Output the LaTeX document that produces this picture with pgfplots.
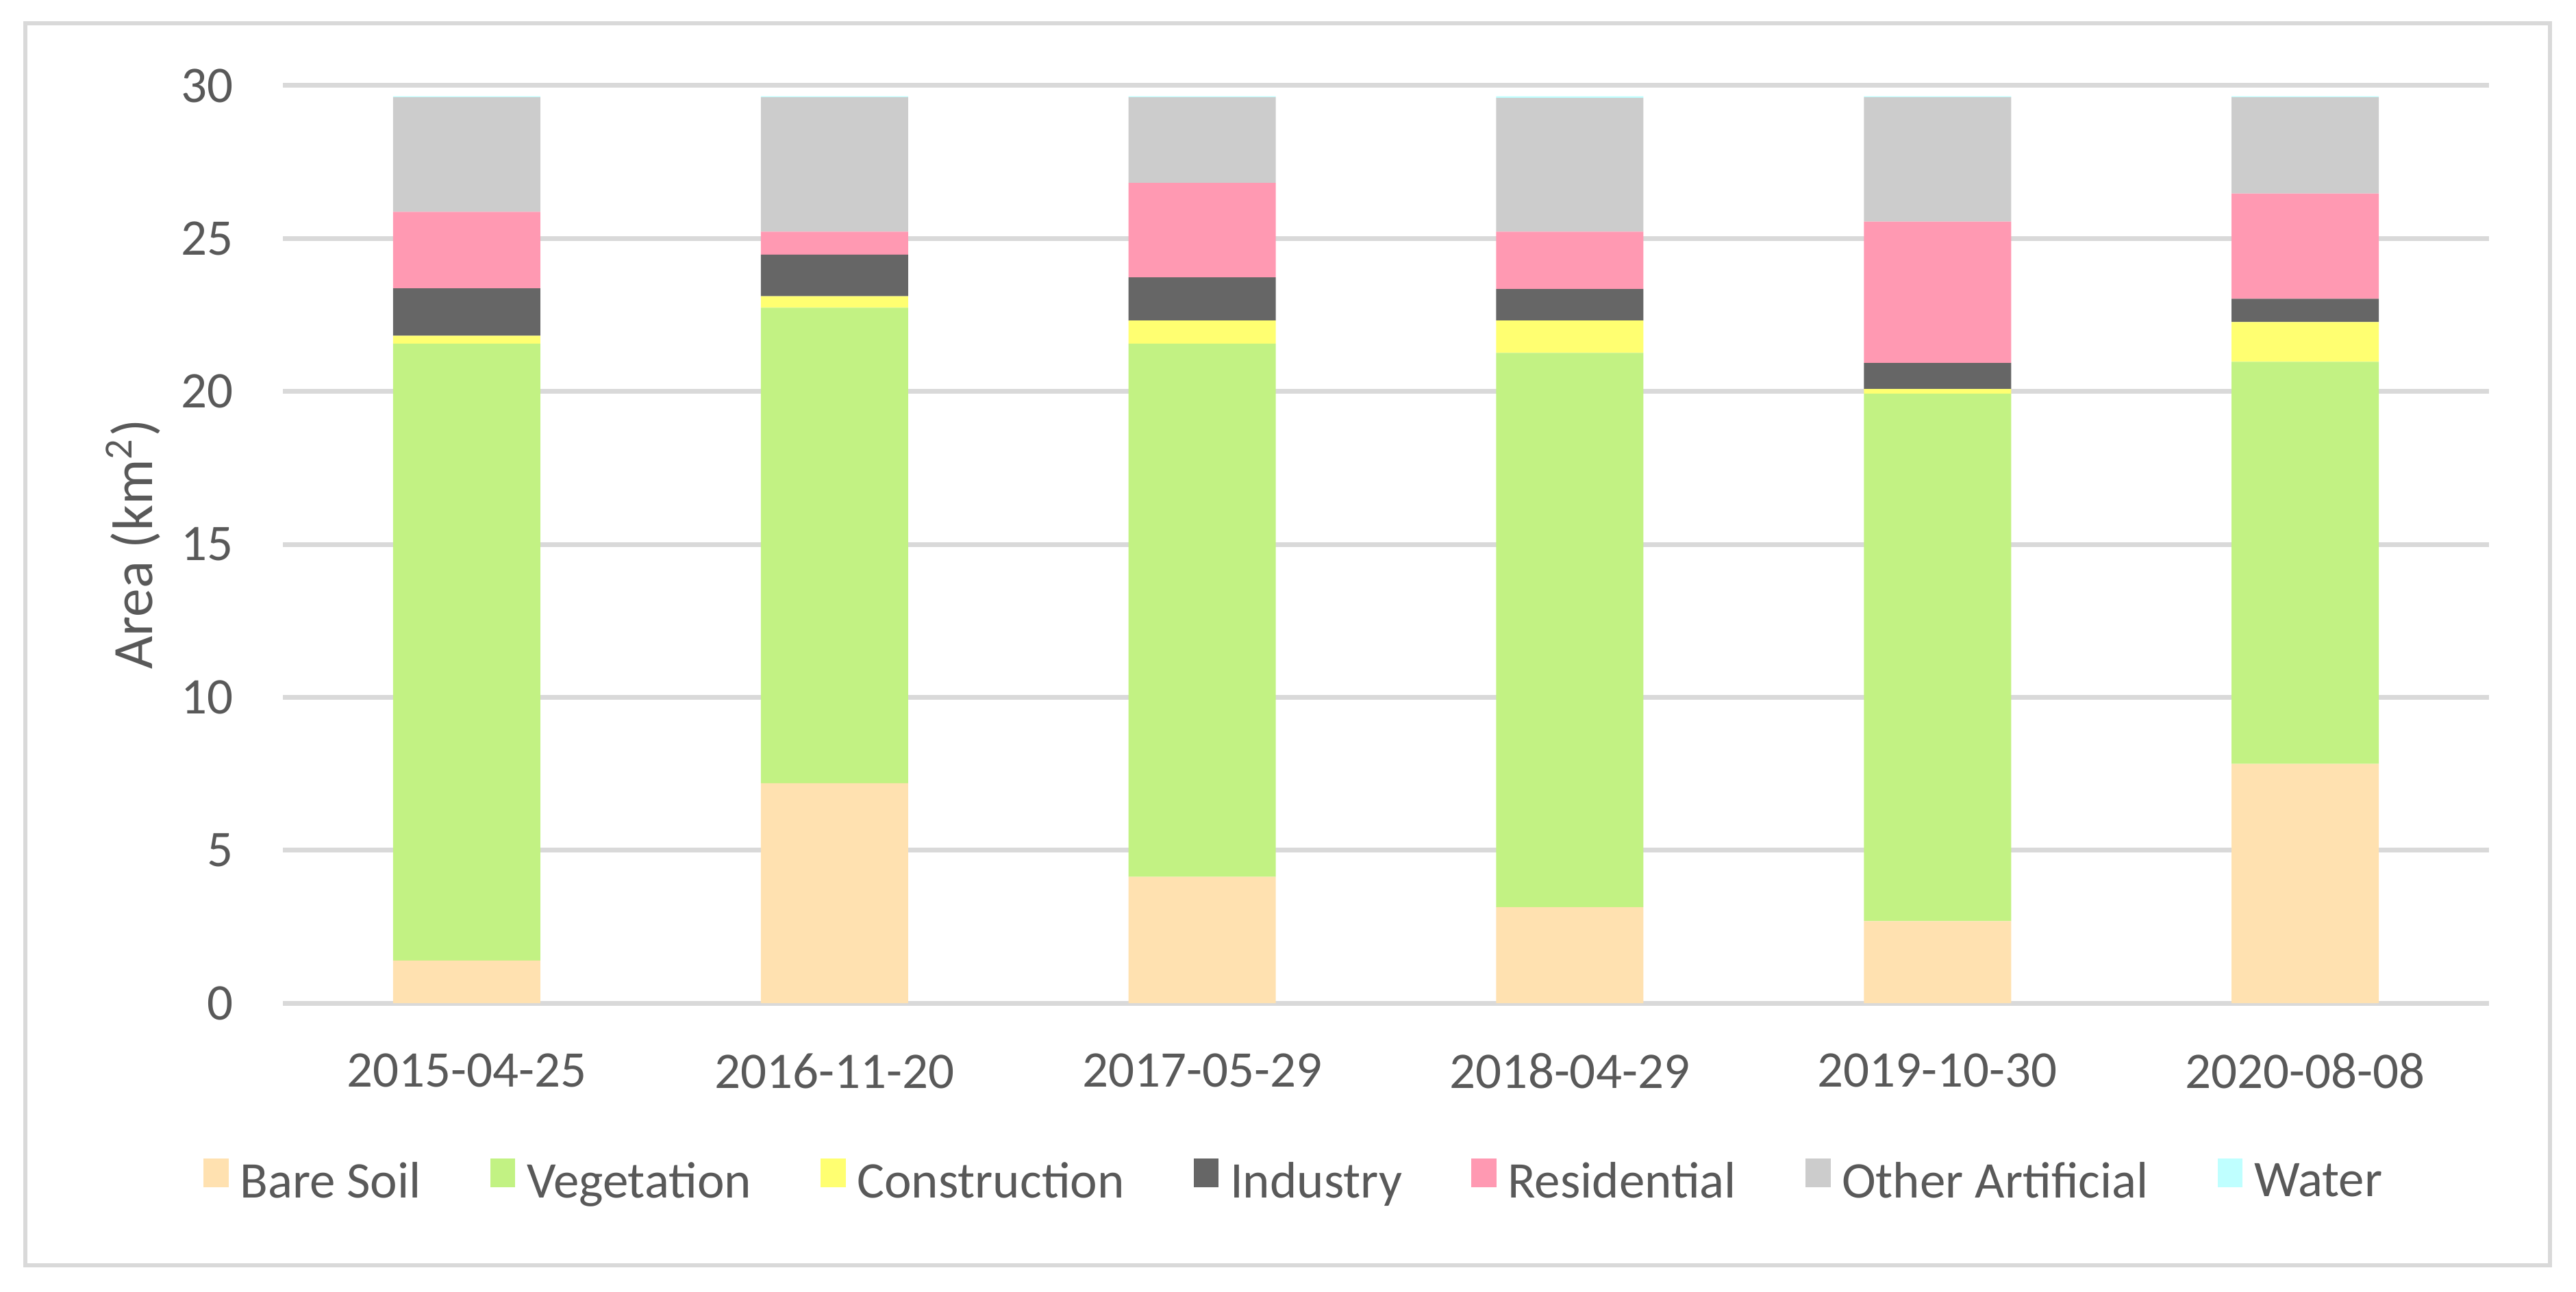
\documentclass[border=0pt]{standalone}
\usepackage{fontspec}
\setmainfont{Carlito}
\usepackage{pgfplots}
\pgfplotsset{compat=1.18}

\definecolor{txt}{HTML}{595959}
\definecolor{gridgray}{HTML}{D9D9D9}
\definecolor{soil}{HTML}{FFE1B0}
\definecolor{veg}{HTML}{C2F283}
\definecolor{constr}{HTML}{FFFF71}
\definecolor{indus}{HTML}{666666}
\definecolor{resid}{HTML}{FF99B2}
\definecolor{otherart}{HTML}{CCCCCC}
\definecolor{water}{HTML}{BFFFFF}

\begin{document}
\begin{tikzpicture}
\useasboundingbox (0,0) rectangle (451.3pt,226.4pt);
\draw[color=gridgray, line width=0.7pt] (4.44pt,4.6pt) rectangle (446.7pt,222.3pt);
\begin{axis}[
    at={(49.56pt,50.6pt)}, anchor=south west,
    scale only axis, width=386.5pt, height=160.8pt,
    ybar stacked, bar width=25.8pt,
    xmin=-0.5, xmax=5.5, ymin=0, ymax=30,
    xtick={0,1,2,3,4,5},
    xticklabels={2015-04-25,2016-11-20,2017-05-29,2018-04-29,2019-10-30,2020-08-08},
    ytick={0,5,10,15,20,25,30},
    axis line style={draw=none},
    major tick style={draw=none},
    ymajorgrids,
    major grid style={color=gridgray, line width=0.84pt},
    /pgf/number format/assume math mode=true,
    tick label style={font=\fontsize{9}{11}\selectfont, text=txt},
    yticklabel style={anchor=east, inner sep=0pt, xshift=-8.5pt},
    xticklabel style={anchor=north, inner sep=0pt, yshift=-8.6pt},
    ylabel={Area (km\textsuperscript{2})},
    every axis y label/.style={at={(axis description cs:-0.0678,0.5)}, rotate=90, anchor=center,
        font=\fontsize{10}{12}\selectfont, text=txt},
    legend columns=7,
    legend style={at={(axis description cs:0.4604,-0.1953)}, anchor=center,
        draw=none, fill=none, font=\fontsize{9}{11}\selectfont, text=txt,
        nodes={inner xsep=2pt, inner ysep=0pt},
        /tikz/every even column/.append style={column sep=10.1pt}},
    legend image code/.code={\fill[#1] (0pt,-0.5pt) rectangle (4.4pt,4.5pt);},
]
\addplot[fill=soil, draw=none] coordinates {(0,1.39) (1,7.19) (2,4.13) (3,3.14) (4,2.68) (5,7.82)};
\addplot[fill=veg, draw=none] coordinates {(0,20.17) (1,15.55) (2,17.43) (3,18.12) (4,17.25) (5,13.15)};
\addplot[fill=constr, draw=none] coordinates {(0,0.26) (1,0.37) (2,0.76) (3,1.06) (4,0.15) (5,1.30)};
\addplot[fill=indus, draw=none] coordinates {(0,1.55) (1,1.36) (2,1.41) (3,1.03) (4,0.85) (5,0.76)};
\addplot[fill=resid, draw=none] coordinates {(0,2.50) (1,0.75) (2,3.09) (3,1.87) (4,4.62) (5,3.44)};
\addplot[fill=otherart, draw=none] coordinates {(0,3.75) (1,4.40) (2,2.80) (3,4.38) (4,4.07) (5,3.15)};
\addplot[fill=water, draw=none] coordinates {(0,0.03) (1,0.03) (2,0.03) (3,0.05) (4,0.03) (5,0.03)};
\legend{Bare Soil,Vegetation,Construction,Industry,Residential,Other Artificial,Water}
\end{axis}
\end{tikzpicture}
\end{document}
